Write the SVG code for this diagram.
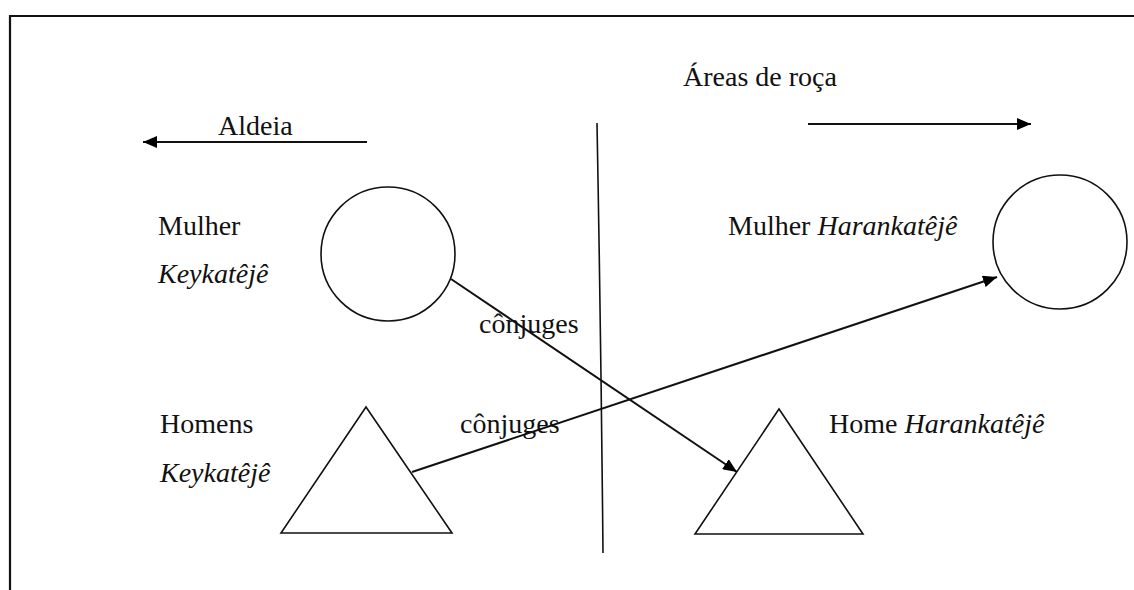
<svg xmlns="http://www.w3.org/2000/svg" width="1134" height="590" viewBox="0 0 1134 590">
  <style>
    text { font-family: "Liberation Serif", "Times New Roman", serif; font-size: 28px; fill: #111; }
    .it { font-style: italic; }
    .shape { fill: none; stroke: #111; stroke-width: 1.6; }
    .conn { fill: none; stroke: #111; stroke-width: 2; }
  </style>
  <defs>
    <marker id="arrow" markerWidth="14" markerHeight="12" refX="14" refY="6" orient="auto" markerUnits="userSpaceOnUse">
      <path d="M0,0 L14,6 L0,12 Z" fill="#000"/>
    </marker>
  </defs>
  <rect width="1134" height="590" fill="#fff"/>
  <path id="frame" d="M10,600 V16 H1140" fill="none" stroke="#111" stroke-width="2.2"/>

  <g id="label-areas"><text x="683" y="86">Áreas de roça</text></g>
  <g id="label-aldeia"><text x="218" y="135">Aldeia</text></g>

  <g id="divider"><path d="M597,123 Q601,340 603,553" class="shape"/></g>

  <g id="mulher-keykateje">
    <text x="158" y="235">Mulher</text>
    <text x="158" y="283" class="it">Keykatêjê</text>
    <circle cx="388" cy="254" r="67" class="shape"/>
  </g>

  <g id="mulher-harankateje">
    <text x="728" y="235">Mulher <tspan class="it">Harankatêjê</tspan></text>
    <circle cx="1060" cy="242" r="67" class="shape"/>
  </g>

  <g id="homens-keykateje">
    <text x="160" y="433">Homens</text>
    <text x="160" y="482" class="it">Keykatêjê</text>
    <polygon points="366,407 281,533 452,533" class="shape"/>
  </g>

  <g id="home-harankateje">
    <text x="829" y="433">Home <tspan class="it">Harankatêjê</tspan></text>
    <polygon points="779,409 695,534 863,534" class="shape"/>
  </g>

  <g id="connectors">
    <line x1="367" y1="142" x2="143" y2="142" class="conn" marker-end="url(#arrow)"/>
    <line x1="808" y1="124" x2="1031" y2="124" class="conn" marker-end="url(#arrow)"/>
    <line x1="451" y1="279" x2="737" y2="472" class="conn" marker-end="url(#arrow)"/>
    <line x1="412" y1="472" x2="997" y2="277" class="conn" marker-end="url(#arrow)"/>
  </g>

  <g id="labels-conjuges">
    <text x="479" y="333">cônjuges</text>
    <text x="460" y="433">cônjuges</text>
  </g>
</svg>
